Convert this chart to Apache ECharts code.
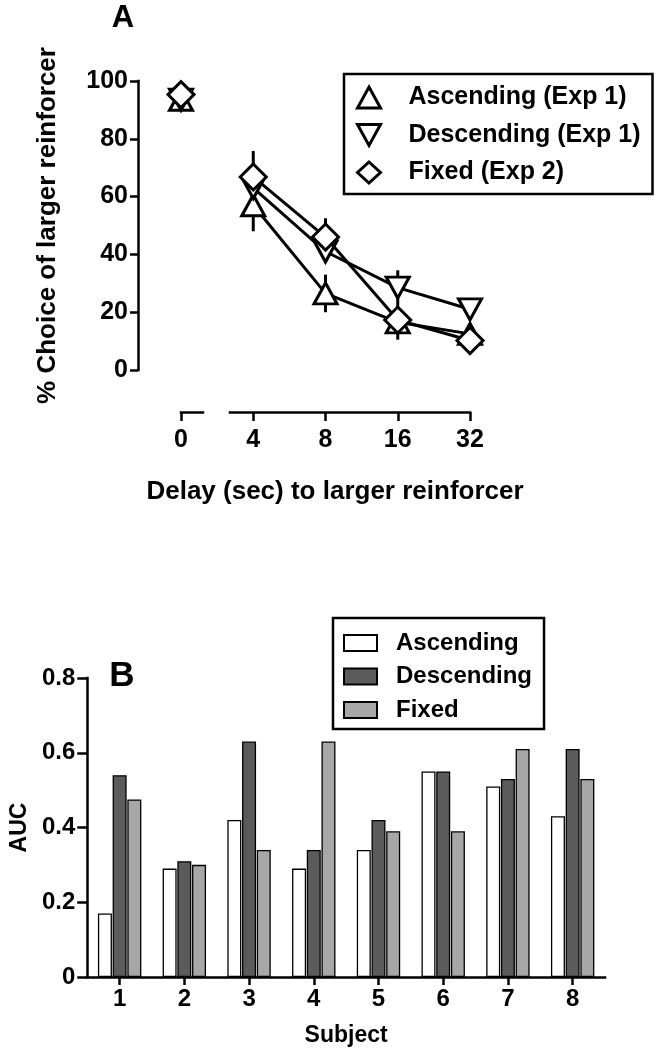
<!DOCTYPE html>
<html>
<head>
<meta charset="utf-8">
<script src="https://cdn.jsdelivr.net/npm/echarts@6/dist/echarts.min.js"></script>
<style>
  html, body { margin: 0; padding: 0; background: #fff; }
  #chart { width: 668px; height: 1050px; }
</style>
</head>
<body>
<div id="chart"></div>
<script>
// ---------- Panel A data ----------
const delays = ['0', '4', '8', '16', '32'];
const ascending = [93.5, 57, 26.5, 16.5, 12.5];
const descending = [93.5, 63, 41, 28.5, 21];
const fixed = [95.3, 66.8, 46, 17.3, 10.2];
const ascendingErr = [0, 9, 6.5, 6, 0];
const descendingErr = [0, 0, 0, 6, 0];
const fixedErr = [0, 9, 6.5, 0, 0];
const lineNames = ['Ascending (Exp 1)', 'Descending (Exp 1)', 'Fixed (Exp 2)'];

// ---------- Panel B data ----------
const subjects = ['1', '2', '3', '4', '5', '6', '7', '8'];
const aucAscending = [0.17, 0.29, 0.42, 0.29, 0.34, 0.55, 0.51, 0.43];
const aucDescending = [0.54, 0.31, 0.63, 0.34, 0.42, 0.55, 0.53, 0.61];
const aucFixed = [0.475, 0.30, 0.34, 0.63, 0.39, 0.39, 0.61, 0.53];
const barNames = ['Ascending', 'Descending', 'Fixed'];

const FONT = "'Liberation Sans', Arial, Helvetica, sans-serif";

// line data: point at delay 0 is separated (broken axis) from the rest
function toLine(vals) {
  const out = [[0, vals[0]], [0.5, '-']];
  for (let i = 1; i < vals.length; i++) out.push([i, vals[i]]);
  return out;
}
function toErr(vals, errs) {
  const out = [];
  vals.forEach((v, i) => { if (errs[i] > 0) out.push([i, v - errs[i], v + errs[i]]); });
  return out;
}
const errData = [].concat(
  toErr(ascending, ascendingErr),
  toErr(descending, descendingErr),
  toErr(fixed, fixedErr)
);

const axisLineStyle = { color: '#000', width: 2.5, cap: 'square' };
const tickStyle = { color: '#000', width: 2.5 };
const labelStyle = (size) => ({ color: '#000', fontSize: size, fontWeight: 'bold', fontFamily: FONT });

const markerStyle = { color: '#fff', borderColor: '#000', borderWidth: 3 };
const lineStyle = { color: '#000', width: 3 };

const chart = echarts.init(document.getElementById('chart'), null, { renderer: 'canvas' });

const option = {
  animation: false,
  backgroundColor: '#fff',
  grid: [
    { left: 181, right: 198, top: 81, height: 289 },          // A plot
    { left: 181, width: 22, top: 402, height: 10 },           // A x-axis segment 1
    { left: 230, width: 240, top: 402, height: 10 },          // A x-axis segment 2
    { left: 81, width: 524, top: 678, bottom: 73 }            // B plot
  ],
  xAxis: [
    {
      gridIndex: 0, type: 'value', min: 0, max: 4, interval: 1,
      offset: 42,
      axisLine: { show: false, onZero: false },
      axisTick: { show: true, length: 9, lineStyle: tickStyle },
      axisLabel: Object.assign(labelStyle(25), { margin: 16, formatter: (v) => delays[v] }),
      splitLine: { show: false },
      name: 'Delay (sec) to larger reinforcer',
      nameLocation: 'middle', nameGap: 67,
      nameTextStyle: Object.assign(labelStyle(26), { padding: [0, 0, 0, 19] })
    },
    {
      gridIndex: 1, type: 'value', min: 0, max: 1,
      axisLine: { show: true, onZero: false, lineStyle: axisLineStyle },
      axisTick: { show: false }, axisLabel: { show: false }, splitLine: { show: false }
    },
    {
      gridIndex: 2, type: 'value', min: 0, max: 1,
      axisLine: { show: true, onZero: false, lineStyle: axisLineStyle },
      axisTick: { show: false }, axisLabel: { show: false }, splitLine: { show: false }
    },
    {
      gridIndex: 3, type: 'category', data: subjects, boundaryGap: true,
      axisLine: { show: true, onZero: false, lineStyle: axisLineStyle },
      axisTick: { show: true, alignWithLabel: true, length: 8, lineStyle: tickStyle },
      axisLabel: Object.assign(labelStyle(24), { margin: 10 }),
      splitLine: { show: false },
      name: 'Subject', nameLocation: 'middle', nameGap: 47,
      nameTextStyle: labelStyle(23)
    }
  ],
  yAxis: [
    {
      gridIndex: 0, type: 'value', min: 0, max: 100, interval: 20,
      offset: 43,
      axisLine: { show: true, onZero: false, lineStyle: axisLineStyle },
      axisTick: { show: true, length: 8, lineStyle: tickStyle },
      axisLabel: Object.assign(labelStyle(25), { margin: 10 }),
      splitLine: { show: false },
      name: '% Choice of larger reinforcer', nameLocation: 'middle', nameGap: 77,
      nameTextStyle: labelStyle(26)
    },
    { gridIndex: 1, type: 'value', show: false },
    { gridIndex: 2, type: 'value', show: false },
    {
      gridIndex: 3, type: 'value', min: 0, max: 0.8, interval: 0.2,
      axisLine: { show: true, onZero: false, lineStyle: axisLineStyle },
      axisTick: { show: true, length: 10, lineStyle: tickStyle },
      axisLabel: Object.assign(labelStyle(24), { margin: 12 }),
      splitLine: { show: false },
      name: 'AUC', nameLocation: 'middle', nameGap: 54,
      nameTextStyle: labelStyle(23)
    }
  ],
  legend: [
    {
      left: 344, top: 74, orient: 'vertical',
      padding: [11, 12, 9, 12],
      borderColor: '#000', borderWidth: 2.5,
      itemWidth: 23, itemHeight: 21, itemGap: 12.5,
      textStyle: Object.assign(labelStyle(25), { lineHeight: 25, padding: [0, 0, 0, 23] }),
      itemStyle: { color: '#fff', borderColor: '#000', borderWidth: 3 },
      data: [
        { name: lineNames[0], icon: 'triangle' },
        { name: lineNames[1], icon: 'path://M0,0L23,0L11.5,21Z' },
        { name: lineNames[2], icon: 'diamond' }
      ]
    },
    {
      left: 333, top: 618, orient: 'vertical',
      padding: [13, 12, 7, 10],
      borderColor: '#000', borderWidth: 2.5,
      itemWidth: 33, itemHeight: 16, itemGap: 9.5,
      textStyle: Object.assign(labelStyle(24), { lineHeight: 24, padding: [0, 0, 0, 14] }),
      data: barNames.map((n) => ({ name: n, icon: 'rect' }))
    }
  ],
  graphic: [
    { type: 'text', x: 123, y: 18, style: { text: 'A', fill: '#000', font: 'bold 31px ' + FONT, textAlign: 'center', textVerticalAlign: 'middle' } },
    { type: 'text', x: 122, y: 676, style: { text: 'B', fill: '#000', font: 'bold 35px ' + FONT, textAlign: 'center', textVerticalAlign: 'middle' } }
  ],
  series: [
    {
      type: 'custom', name: 'errors', xAxisIndex: 0, yAxisIndex: 0, z: 1, clip: false,
      data: errData,
      renderItem: function (params, api) {
        const x = api.value(0);
        const p1 = api.coord([x, api.value(1)]);
        const p2 = api.coord([x, api.value(2)]);
        return {
          type: 'line',
          shape: { x1: p1[0], y1: p1[1], x2: p2[0], y2: p2[1] },
          style: { stroke: '#000', lineWidth: 3 }
        };
      }
    },
    {
      type: 'line', name: lineNames[0], xAxisIndex: 0, yAxisIndex: 0, z: 2, clip: false,
      data: toLine(ascending), symbol: 'triangle', symbolSize: [23, 21], showAllSymbol: true,
      lineStyle: lineStyle, itemStyle: markerStyle
    },
    {
      type: 'line', name: lineNames[1], xAxisIndex: 0, yAxisIndex: 0, z: 3, clip: false,
      data: toLine(descending), symbol: 'triangle', symbolRotate: 180, symbolSize: [23, 21], showAllSymbol: true,
      lineStyle: lineStyle, itemStyle: markerStyle
    },
    {
      type: 'line', name: lineNames[2], xAxisIndex: 0, yAxisIndex: 0, z: 4, clip: false,
      data: toLine(fixed), symbol: 'diamond', symbolSize: [26, 26], showAllSymbol: true,
      lineStyle: lineStyle, itemStyle: markerStyle
    },
    {
      type: 'bar', name: barNames[0], xAxisIndex: 3, yAxisIndex: 3,
      data: aucAscending, barWidth: 14, barGap: '5%',
      itemStyle: { color: '#ffffff', borderColor: '#000', borderWidth: 1.3 }
    },
    {
      type: 'bar', name: barNames[1], xAxisIndex: 3, yAxisIndex: 3,
      data: aucDescending, barWidth: 14, barGap: '5%',
      itemStyle: { color: '#5b5b5b', borderColor: '#000', borderWidth: 1.3 }
    },
    {
      type: 'bar', name: barNames[2], xAxisIndex: 3, yAxisIndex: 3,
      data: aucFixed, barWidth: 14, barGap: '5%',
      itemStyle: { color: '#a7a7a7', borderColor: '#000', borderWidth: 1.3 }
    }
  ]
};

chart.setOption(option);
</script>
</body>
</html>
